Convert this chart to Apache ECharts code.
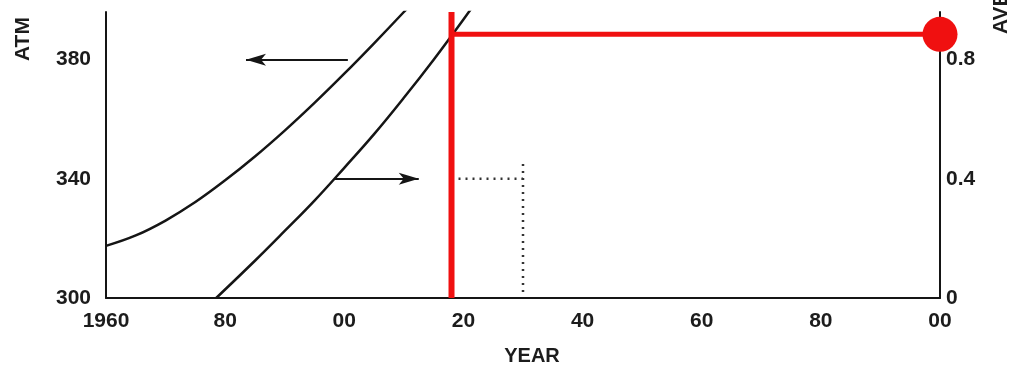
<!DOCTYPE html>
<html>
<head>
<meta charset="utf-8">
<script src="https://cdn.jsdelivr.net/npm/echarts@6/dist/echarts.min.js"></script>
<style>
  html, body { margin: 0; padding: 0; background: #fff; }
  #chart { width: 1009px; height: 365px; }
</style>
</head>
<body>
<div id="chart"></div>
<script>
// year axis
var years = [1960, 1980, 2000, 2020, 2040, 2060, 2080, 2100];
var yearLabels = ['1960', '80', '00', '20', '40', '60', '80', '00'];
var atmTicks = [300, 340, 380];
var tempTicks = ['0', '0.4', '0.8'];

// atmospheric CO2 curve (left axis)
var co2Years = [1960, 1965, 1970, 1975, 1980, 1985, 1990, 1995, 2000, 2005, 2010, 2015];
var co2Vals = [317.5, 321, 326, 332.2, 339.5, 347.5, 356.2, 365.5, 375.3, 385.5, 396, 406.8];

// average temperature curve (right axis)
var tempYears = [1978.5, 1985, 1990, 1995, 2000, 2005, 2010, 2015, 2020, 2025];
var tempVals = [0, 0.125, 0.225, 0.327, 0.437, 0.55, 0.672, 0.8, 0.935, 1.075];

// red marker: now-line and level carried to the end
var nowYear = 2018;
var endYear = 2100;
var markLevel = 0.885;

// arrows [fromYear, toYear, atm]
var arrows = [[2000.6, 1983.5, 380], [1998.4, 2012.5, 340]];

// dotted scan marks [x1, y1, x2, y2] on left axis
var dotted = [[2018, 340, 2030, 340], [2030, 302, 2030, 346]];

var font = 'Liberation Sans';
var ink = '#151515';
var textInk = '#1c1c1c';

var chart = echarts.init(document.getElementById('chart'));

var series = [
  {
    type: 'line', yAxisIndex: 0, smooth: 0.4, symbol: 'none',
    lineStyle: {color: ink, width: 2.5},
    data: co2Years.map(function (y, i) { return [y, co2Vals[i]]; })
  },
  {
    type: 'line', yAxisIndex: 1, smooth: 0.4, symbol: 'none',
    lineStyle: {color: ink, width: 2.5},
    data: tempYears.map(function (y, i) { return [y, tempVals[i]]; })
  },
  {
    // arrows
    type: 'line', yAxisIndex: 0, symbol: 'none', data: [],
    markLine: {
      silent: true,
      symbol: ['none', 'arrow'],
      symbolSize: [9, 20],
      label: {show: false},
      lineStyle: {color: ink, width: 2, type: 'solid'},
      data: arrows.map(function (a) {
        return [{coord: [a[0], a[2]]}, {coord: [a[1], a[2]]}];
      })
    }
  }
];

dotted.forEach(function (d) {
  series.push({
    type: 'line', yAxisIndex: 0, symbol: 'none', silent: true,
    lineStyle: {color: '#333', width: 2.5, type: [2, 5]},
    data: [[d[0], d[1]], [d[2], d[3]]]
  });
});

series.push({
  type: 'line', yAxisIndex: 0, symbol: 'none', silent: true,
  lineStyle: {color: '#f01010', width: 6},
  data: [[nowYear, 300], [nowYear, 396]]
});
series.push({
  type: 'line', yAxisIndex: 1, symbol: 'none', silent: true,
  lineStyle: {color: '#f01010', width: 5},
  data: [[nowYear, markLevel], [endYear, markLevel]]
});
series.push({
  type: 'scatter', yAxisIndex: 1, clip: false, symbolSize: 35,
  itemStyle: {color: '#f01010', opacity: 1},
  data: [[endYear, markLevel]]
});

chart.setOption({
  animation: false,
  backgroundColor: '#fff',
  grid: {left: 106, right: 69, top: 12, bottom: 67, containLabel: false},
  xAxis: {
    type: 'value', min: 1960, max: 2100, interval: 20,
    axisLine: {lineStyle: {color: ink, width: 2}},
    axisTick: {show: false},
    splitLine: {show: false},
    axisLabel: {
      color: textInk, fontFamily: font, fontWeight: 'bold', fontSize: 21, margin: 13,
      formatter: function (v) {
        var i = years.indexOf(Math.round(v));
        return i >= 0 ? yearLabels[i] : '';
      }
    }
  },
  yAxis: [
    {
      type: 'value', min: 300, max: 396, interval: 40, position: 'left',
      axisLine: {show: true, lineStyle: {color: ink, width: 2}},
      axisTick: {show: false},
      splitLine: {show: false},
      axisLabel: {
        color: textInk, fontFamily: font, fontWeight: 'bold', fontSize: 21, margin: 15,
        formatter: function (v) {
          return atmTicks.indexOf(Math.round(v)) >= 0 && Math.abs(v - Math.round(v)) < 1e-6 ? String(Math.round(v)) : '';
        }
      }
    },
    {
      type: 'value', min: 0, max: 0.96, interval: 0.4, position: 'right',
      axisLine: {show: true, lineStyle: {color: ink, width: 2}},
      axisTick: {show: false},
      splitLine: {show: false},
      axisLabel: {
        color: textInk, fontFamily: font, fontWeight: 'bold', fontSize: 21, margin: 6,
        formatter: function (v) {
          var k = v / 0.4;
          if (Math.abs(k - Math.round(k)) > 1e-6) return '';
          return tempTicks[Math.round(k)] || '';
        }
      }
    }
  ],
  graphic: [
    {
      type: 'text', x: 23, y: 61, rotation: Math.PI / 2,
      style: {text: 'ATM', font: 'bold 21px "Liberation Sans"', fill: textInk, align: 'left', verticalAlign: 'middle'}
    },
    {
      type: 'text', x: 1001, y: 34, rotation: Math.PI / 2,
      style: {text: 'AVE TEMP', font: 'bold 21px "Liberation Sans"', fill: textInk, align: 'left', verticalAlign: 'middle'}
    },
    {
      type: 'text', x: 532, y: 356,
      style: {text: 'YEAR', font: 'bold 20px "Liberation Sans"', fill: textInk, align: 'center', verticalAlign: 'middle'}
    }
  ],
  series: series
});
</script>
</body>
</html>
